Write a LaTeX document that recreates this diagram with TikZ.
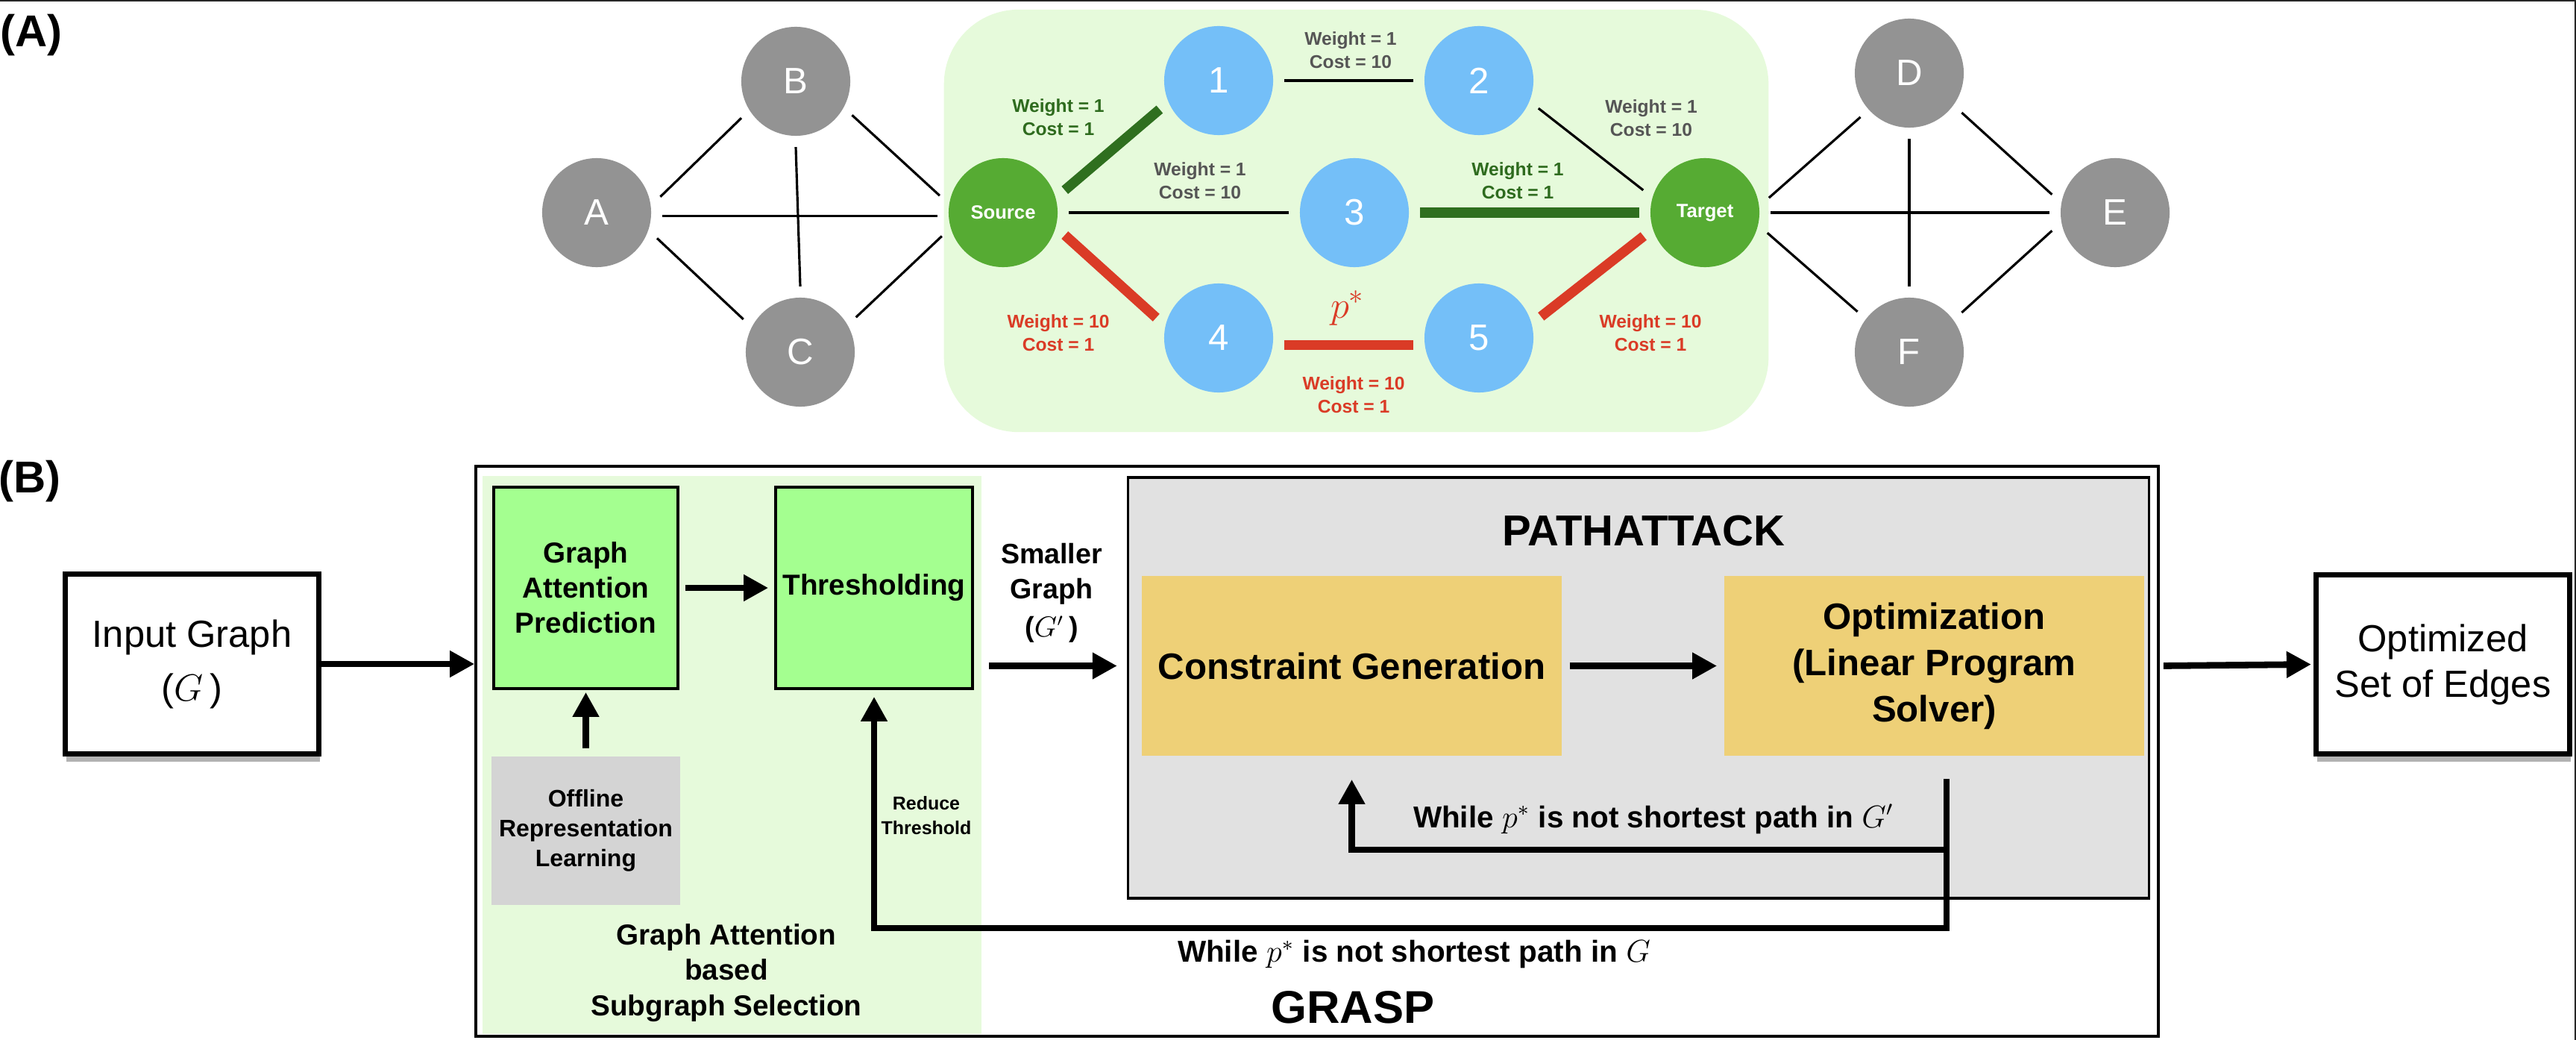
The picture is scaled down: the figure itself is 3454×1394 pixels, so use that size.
\documentclass[tikz,border=0pt]{standalone}
\usepackage{fontspec}
\setmainfont{Liberation Sans}
\usetikzlibrary{arrows.meta,shadows,calc}
\definecolor{nodegray}{HTML}{939393}
\definecolor{nodeblue}{HTML}{74BFF8}
\definecolor{nodegreen}{HTML}{56AB33}
\definecolor{edgegreen}{HTML}{2F6F1F}
\definecolor{edgered}{HTML}{DA3B26}
\definecolor{labgray}{HTML}{555555}
\definecolor{labgreen}{HTML}{2E6B1E}
\definecolor{bglight}{HTML}{E6FADB}
\definecolor{gapfill}{HTML}{A4FF90}
\definecolor{offfill}{HTML}{D4D4D4}
\definecolor{pafill}{HTML}{E1E1E1}
\definecolor{yellowfill}{HTML}{EED077}
\tikzset{
  gnode/.style={circle, fill=nodegray, minimum size=1.46cm, inner sep=0pt, outer sep=0.15cm, text=white, font=\fontsize{14}{14}\selectfont},
  bnode/.style={gnode, fill=nodeblue},
  stnode/.style={gnode, fill=nodegreen, font=\bfseries\fontsize{7.3}{8}\selectfont},
  thinedge/.style={line width=0.9pt, draw=black},
  gedge/.style={line width=3.8pt, draw=edgegreen},
  redge/.style={line width=3.8pt, draw=edgered},
  wlabel/.style={align=center, inner sep=0pt, font=\bfseries\fontsize{7}{8.8}\selectfont},
  bigbox/.style={draw, line width=2pt, fill=white, align=center, inner sep=0pt,
    drop shadow={shadow xshift=0.5pt, shadow yshift=-3pt, opacity=0.3, fill=black},
    font=\fontsize{14.4}{17.4}\selectfont},
  greenbox/.style={draw, line width=1pt, fill=gapfill, align=center, inner sep=0pt, font=\bfseries\fontsize{11}{13.4}\selectfont},
  yellowbox/.style={fill=yellowfill, align=center, inner sep=0pt, minimum width=5.63cm, minimum height=2.41cm, font=\bfseries\fontsize{14}{17.6}\selectfont},
  arr/.style={line width=2.5pt, -{Triangle[length=9.4pt,width=9.6pt]}},
  btext/.style={align=center, inner sep=0pt, font=\bfseries\fontsize{11}{13.4}\selectfont}
}
\begin{document}
\begin{tikzpicture}[x=0.01cm,y=-0.01cm]
\useasboundingbox (0,0) rectangle (3454,1394);
% frame
\draw[line width=0.7pt, black!85] (0,1) -- (3453,1) -- (3453,1394);

% ---------------- Part A ----------------
\node[font=\bfseries\fontsize{17}{17}\selectfont, inner sep=0pt] (labA) at (42,47) {(A)};
\node[fill=bglight, rounded corners=1cm, minimum width=11.05cm, minimum height=5.66cm, inner sep=0pt] (focus) at (1818.5,296) {};

\node[gnode] (A) at (800,285) {A};
\node[gnode] (B) at (1067,109) {B};
\node[gnode] (C) at (1073,472) {C};
\node[stnode] (S) at (1345,285) {Source};
\node[bnode] (n1) at (1634,108) {1};
\node[bnode] (n2) at (1983,108) {2};
\node[bnode] (n3) at (1816,285) {3};
\node[stnode] (T) at (2286,285) {Target};
\node[bnode] (n4) at (1634,453) {4};
\node[bnode] (n5) at (1983,453) {5};
\node[gnode] (D) at (2560,98) {D};
\node[gnode] (E) at (2836,285) {E};
\node[gnode] (F) at (2560,472) {F};

\draw[thinedge] (A.14) -- (B.214);
\draw[thinedge] (A.-23) -- (C.150);
\draw[thinedge] (B.270) -- (C.90);
\draw[thinedge] (B.-31) -- (S.165);
\draw[thinedge] (C.32) -- (S.201);
\draw[thinedge] (A.-3) -- (S.183);
\draw[thinedge] (T.13) -- (D.222);
\draw[thinedge] (T.-18) -- (F.142);
\draw[thinedge] (D.270) -- (F.90);
\draw[thinedge] (D.-37) -- (E.164);
\draw[thinedge] (F.37) -- (E.196);
\draw[thinedge] (T.east) -- (E.west);
\draw[gedge] (S.20) -- (n1.206);
\draw[thinedge] (n1.east) -- (n2.west);
\draw[thinedge] (n2.-25) -- (T.160);
\draw[thinedge] (S.east) -- (n3.west);
\draw[gedge] (n3.east) -- (T.west);
\draw[redge] (S.-20) -- (n4.162);
\draw[redge] (n4.-6) -- (n5.186);
\draw[redge] (n5.19) -- (T.201);

\node[wlabel, text=labgreen] (l1) at (1419,157) {Weight = 1\\Cost = 1};
\node[wlabel, text=labgray] (l2) at (1811,67) {Weight = 1\\Cost = 10};
\node[wlabel, text=labgray] (l3) at (2214,158) {Weight = 1\\Cost = 10};
\node[wlabel, text=labgray] (l4) at (1609,242) {Weight = 1\\Cost = 10};
\node[wlabel, text=labgreen] (l5) at (2035,242) {Weight = 1\\Cost = 1};
\node[wlabel, text=edgered] (l6) at (1419,446) {Weight = 10\\Cost = 1};
\node[text=edgered, inner sep=0pt, font=\fontsize{15}{15}\selectfont] (pstar) at (1807,413) {$p^*$};
\node[wlabel, text=edgered] (l7) at (1815,529) {Weight = 10\\Cost = 1};
\node[wlabel, text=edgered] (l8) at (2213,446) {Weight = 10\\Cost = 1};

% ---------------- Part B ----------------
\node[font=\bfseries\fontsize{17}{17}\selectfont, inner sep=0pt] (labB) at (40,645) {(B)};

\node[draw, line width=1.2pt, fill=white, minimum width=22.54cm, minimum height=7.64cm, inner sep=0pt] (grasp) at (1766,1007) {};
\node[fill=bglight, minimum width=6.69cm, minimum height=7.48cm, inner sep=0pt] (panel) at (981.5,1012) {};

\node[greenbox, minimum width=2.47cm, minimum height=2.70cm] (gap) at (785.5,788) {Graph\\Attention\\Prediction};
\node[greenbox, minimum width=2.64cm, minimum height=2.70cm] (thr) at (1172,788) {Thresholding};
\node[fill=offfill, minimum width=2.53cm, minimum height=1.99cm, inner sep=0pt, align=center, font=\bfseries\fontsize{9.1}{11.4}\selectfont] (off) at (785.5,1113.5) {Offline\\Representation\\Learning};

\node[draw, line width=1pt, fill=pafill, minimum width=13.68cm, minimum height=5.64cm, inner sep=0pt] (pa) at (2197,922) {};
\node[inner sep=0pt, font=\bfseries\fontsize{16.5}{16.5}\selectfont] (patitle) at (2204,712) {PATHATTACK};
\node[yellowbox] (cg) at (1812.5,892.5) {Constraint Generation};
\node[yellowbox] (opt) at (2593.5,892.5) {Optimization\\(Linear Program\\Solver)};

\node[bigbox, minimum width=3.40cm, minimum height=2.41cm, font=\fontsize{14.4}{20.5}\selectfont] (input) at (257.5,890) {Input Graph\\($G$\,)};
\node[bigbox, minimum width=3.40cm, minimum height=2.40cm] (out) at (3275.5,890.5) {Optimized\\Set of Edges};

\node[btext, font=\bfseries\fontsize{10.7}{13.5}\selectfont] (small) at (1410,795) {Smaller\\Graph\\[1pt]($G'$\,)};
\node[btext, font=\bfseries\fontsize{7.1}{9.2}\selectfont] (reduce) at (1242,1093) {Reduce\\Threshold};
\node[btext] (gas) at (974,1304) {Graph Attention\\based\\Subgraph Selection};
\node[btext, font=\bfseries\fontsize{11.5}{11.5}\selectfont] (wgp) at (2217,1098) {While $p^*$ is not shortest path in $G'$};
\node[btext, font=\bfseries\fontsize{11.5}{11.5}\selectfont] (wg) at (1896,1279) {While $p^*$ is not shortest path in $G$};
\node[btext, font=\bfseries\fontsize{17.5}{17.5}\selectfont] (grasplab) at (1814,1350) {GRASP};

\draw[arr] (input.east) -- (input.east -| grasp.west);
\draw[arr, shorten <=0.08cm, shorten >=0.08cm] (gap.east) -- (thr.west);
\draw[arr, shorten <=0.1cm, shorten >=0.03cm] (off.north) -- (gap.south);
\draw[arr, shorten <=0.2cm, shorten >=0.13cm] (thr.east |- cg.center) -- (cg.center -| pa.west);
\draw[arr, shorten <=0.1cm, shorten >=0.09cm] (cg.east) -- (opt.west);
\draw[arr, shorten <=0.05cm, shorten >=0.03cm] (opt.east -| grasp.east) -- (out.west);
\coordinate (ls) at (2610,1044);
\draw[arr] (ls) -- ++(0,95) -| ([yshift=-0.31cm]cg.south);
\draw[arr] (ls) -- ++(0,200) -| ([yshift=-0.09cm]thr.south);
\end{tikzpicture}
\end{document}
